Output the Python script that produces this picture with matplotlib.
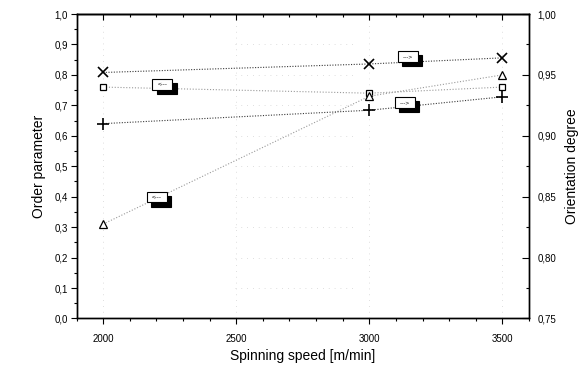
import matplotlib
matplotlib.use("Agg")
import matplotlib.pyplot as plt
from matplotlib.ticker import MultipleLocator, FuncFormatter
from matplotlib.offsetbox import DrawingArea, AnnotationBbox
from matplotlib.patches import Rectangle

plt.rcParams['font.family'] = ['Liberation Sans', 'DejaVu Sans']

# Spinning speed [m/min]
speed = [2000, 3000, 3500]

# Order parameter (left axis)
order_square = [0.76, 0.74, 0.76]
order_triangle = [0.31, 0.73, 0.80]

# Orientation degree (right axis)
orient_cross = [0.952, 0.959, 0.964]
orient_plus = [0.910, 0.921, 0.932]

fig = plt.figure(figsize=(5.81, 3.66), dpi=100)
ax = fig.add_axes([0.1317, 0.1298, 0.7788, 0.8319])
ax2 = ax.twinx()

dot_light = dict(color='#9a9a9a', lw=0.8, linestyle=(0, (1, 1.6)))
dot_dark = dict(color='#3a3a3a', lw=0.8, linestyle=(0, (1, 1.4)))

ax.plot(speed, order_square, marker='s', ms=5, mfc='white', mec='black',
        mew=0.9, **dot_light, zorder=3)
ax.plot(speed, order_triangle, marker='^', ms=5.5, mfc='white', mec='black',
        mew=0.9, **dot_light, zorder=3)
ax2.plot(speed, orient_cross, marker='x', ms=7, mec='black', mew=1.2,
         **dot_dark, zorder=3)
ax2.plot(speed, orient_plus, marker='+', ms=9, mec='black', mew=1.2,
         **dot_dark, zorder=3)

ax.set_xlim(1900, 3600)
ax.set_ylim(0.0, 1.0)
ax2.set_ylim(0.75, 1.00)

# faint dotted grid
for gx in [2000, 2500, 3000, 3500]:
    ax.axvline(gx, color='#d4d4d4', lw=0.6, linestyle=(0, (1, 6)), zorder=0)
for gy in [0.1, 0.2, 0.3, 0.4, 0.5, 0.6, 0.7, 0.8, 0.9]:
    ax.axhline(gy, xmin=0.35, xmax=0.62, color='#d4d4d4', lw=0.6,
               linestyle=(0, (1, 6)), zorder=0)

comma1 = FuncFormatter(lambda v, p: f"{v:.1f}".replace('.', ','))
comma2 = FuncFormatter(lambda v, p: f"{v:.2f}".replace('.', ','))

ax.xaxis.set_major_locator(MultipleLocator(500))
ax.xaxis.set_minor_locator(MultipleLocator(100))
ax.yaxis.set_major_locator(MultipleLocator(0.1))
ax.yaxis.set_minor_locator(MultipleLocator(0.05))
ax.yaxis.set_major_formatter(comma1)
ax2.yaxis.set_major_locator(MultipleLocator(0.05))
ax2.yaxis.set_minor_locator(MultipleLocator(0.025))
ax2.yaxis.set_major_formatter(comma2)

ax.tick_params(axis='x', which='major', direction='out', length=4, width=0.8,
               labelsize=7, pad=7)
ax.tick_params(axis='x', which='minor', direction='out', length=2.5, width=0.8)
ax.tick_params(axis='y', which='major', direction='out', length=4, width=0.8,
               labelsize=7, pad=2)
ax.tick_params(axis='y', which='minor', direction='out', length=2.5, width=0.8)
ax2.tick_params(axis='y', which='major', direction='in', length=5, width=0.8,
                labelsize=7, pad=6)
ax2.tick_params(axis='y', which='minor', direction='in', length=2.5, width=0.8)

top = ax.secondary_xaxis('top')
top.xaxis.set_major_locator(MultipleLocator(500))
top.xaxis.set_minor_locator(MultipleLocator(100))
top.tick_params(axis='x', which='major', direction='in', length=4.5, width=0.8,
                labeltop=False)
top.tick_params(axis='x', which='minor', direction='in', length=2.5, width=0.8)

for a in (ax, ax2):
    for s in a.spines.values():
        s.set_linewidth(1.0)
top.spines['top'].set_linewidth(1.0)

ax.set_xlabel('Spinning speed [m/min]', fontsize=10, labelpad=4)
ax.set_ylabel('Order parameter', fontsize=10, labelpad=6)
ax2.set_ylabel('Orientation degree', fontsize=10, labelpad=6)


def axis_tag(target, x, y, text):
    da = DrawingArea(14.4, 7.9, 0, 0)
    da.add_artist(Rectangle((2.9, -2.9), 14.4, 7.9, fc='black', ec='black', lw=0.8))
    da.add_artist(Rectangle((0, 0), 14.4, 7.9, fc='white', ec='black', lw=0.8))
    ab = AnnotationBbox(da, (x, y), xycoords='data', frameon=False,
                        box_alignment=(0.5, 0.5), pad=0, zorder=4)
    target.add_artist(ab)
    target.text(x, y, text, fontsize=4.5, ha='center', va='center', zorder=5)


axis_tag(ax, 2223, 0.769, '<---')
axis_tag(ax, 2202, 0.399, '<---')
axis_tag(ax2, 3145, 0.965, '--->')
axis_tag(ax2, 3134, 0.927, '--->')

fig.savefig('out.png', dpi=100)
